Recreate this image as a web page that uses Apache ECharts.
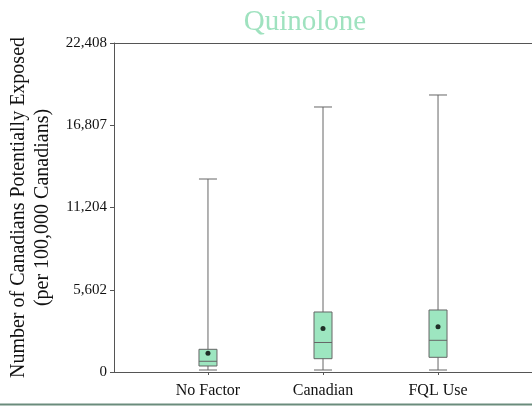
<!DOCTYPE html>
<html>
<head>
<meta charset="utf-8">
<script src="https://cdn.jsdelivr.net/npm/echarts@6/dist/echarts.min.js"></script>
<style>html,body{margin:0;padding:0;background:#fff}#c{width:532px;height:406px}</style>
</head>
<body>
<div id="c"></div>
<script>
const categories = ["No Factor", "Canadian", "FQL Use"];
const categoryPositions = [1, 2, 3];
const whiskerLow = [136, 136, 136];
const q1 = [409, 906, 1001];
const median = [729, 2010, 2159];
const q3 = [1546, 4087, 4223];
const whiskerHigh = [13145, 18049, 18867];
const means = [1274, 2960, 3085];
const yTickValues = [0, 5602, 11204, 16806, 22408];
const yTickLabels = ["0", "5,602", "11,204", "16,807", "22,408"];

const serif = "Liberation Serif";
const boxData = categoryPositions.map((x, i) => [x, whiskerLow[i], q1[i], median[i], q3[i], whiskerHigh[i]]);
const meanData = categoryPositions.map((x, i) => [x, means[i]]);

const chart = echarts.init(document.getElementById('c'), null, {renderer: 'canvas'});
chart.setOption({
  animation: false,
  backgroundColor: '#ffffff',
  title: {
    text: 'Quinolone', left: 300, top: 3, textAlign: 'center',
    textStyle: {fontFamily: serif, fontSize: 29, fontWeight: 'normal', color: '#9fe2bf'}
  },
  grid: {left: 114, right: 0, top: 43, bottom: 34, containLabel: false, outerBoundsMode: 'none'},
  xAxis: [{
    type: 'value', min: 0.183, max: 3.817,
    splitLine: {show: false},
    axisLine: {show: true, onZero: false, lineStyle: {color: '#555', width: 1}},
    axisTick: {show: true, customValues: categoryPositions, length: 3, lineStyle: {color: '#555'}},
    axisLabel: {
      customValues: categoryPositions, margin: 11,
      fontFamily: serif, fontSize: 16, color: '#111',
      formatter: v => categories[categoryPositions.indexOf(Math.round(v))] || ''
    }
  }, {
    type: 'value', position: 'top', min: 0.183, max: 3.817,
    splitLine: {show: false},
    axisLine: {show: true, onZero: false, lineStyle: {color: '#555', width: 1}},
    axisTick: {show: false}, axisLabel: {show: false}
  }],
  yAxis: {
    type: 'value', min: 0, max: 22408, interval: 5602,
    splitLine: {show: false},
    axisLine: {show: true, onZero: false, lineStyle: {color: '#555', width: 1}},
    axisTick: {show: true, length: 4, lineStyle: {color: '#555'}},
    axisLabel: {
      fontFamily: serif, fontSize: 15, color: '#111', margin: 7,
      formatter: (v) => { const i = yTickValues.indexOf(v); return i >= 0 ? yTickLabels[i] : ''; }
    },
    name: 'Number of Canadians Potentially Exposed\n(per 100,000 Canadians)',
    nameLocation: 'middle', nameGap: 58, nameRotate: 90,
    nameTextStyle: {fontFamily: serif, fontSize: 20, color: '#111', lineHeight: 24, padding: [0, 0, 0, 0]}
  },
  series: [{
    type: 'boxplot',
    data: boxData,
    boxWidth: [18, 18],
    itemStyle: {color: '#9de6c0', borderColor: '#666', borderWidth: 1}
  }, {
    type: 'scatter',
    data: meanData,
    symbol: 'circle', symbolSize: 5,
    itemStyle: {color: '#000'},
    z: 5
  }],
  graphic: [{
    type: 'line', shape: {x1: 0, y1: 404.5, x2: 532, y2: 404.5},
    style: {stroke: '#6a8c7c', lineWidth: 2}, silent: true
  }]
});
</script>
</body>
</html>
